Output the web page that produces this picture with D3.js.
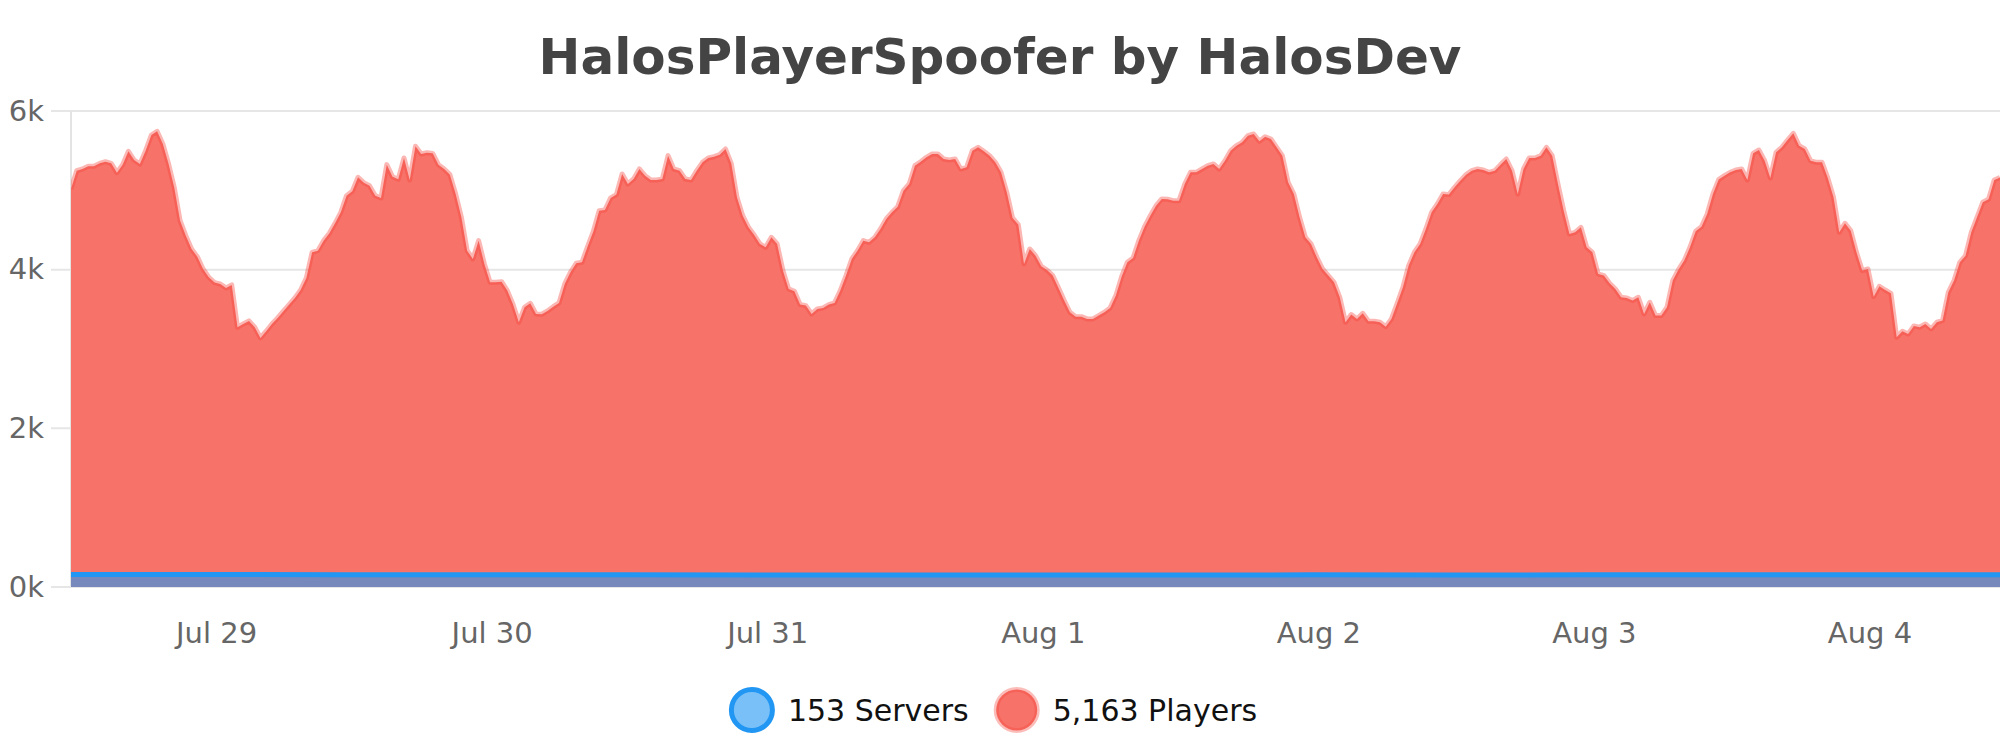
<!DOCTYPE html>
<html>
<head>
<meta charset="utf-8">
<script src="https://cdn.jsdelivr.net/npm/d3@7"></script>
<style>
  html, body { margin: 0; padding: 0; background: #ffffff; }
  svg { display: block; font-family: "DejaVu Sans", sans-serif; }
</style>
</head>
<body>
<svg id="chart" width="2000" height="750"></svg>
<script>
// ---------- data ----------
const chartTitle = "HalosPlayerSpoofer by HalosDev";
const startTime = Date.UTC(2020, 6, 28, 11, 22); // first sample
const playerStepMinutes = 30;
const serverStepMinutes = 720;
const yTickValues = [0, 2000, 4000, 6000];

const players = [
  5017,5248,5269,5303,5303,5340,5361,5340,5223,5324,5492,5382,5332,5500,5697,5744,5584,5332,5030,4618,
  4429,4261,4164,4009,3904,3837,3820,3770,3807,3274,3316,3354,3274,3140,3224,3316,3392,3476,3560,3644,
  3744,3896,4219,4240,4366,4458,4584,4723,4933,4988,5164,5097,5059,4933,4904,5324,5172,5139,5408,5130,
  5555,5458,5475,5466,5324,5269,5198,4954,4660,4240,4135,4366,4072,3841,3841,3849,3736,3560,3337,3526,
  3576,3442,3438,3480,3534,3581,3820,3967,4080,4093,4295,4484,4744,4752,4904,4946,5206,5080,5143,5269,
  5185,5130,5130,5143,5437,5269,5248,5143,5130,5248,5353,5408,5424,5450,5521,5340,4912,4681,4534,4437,
  4324,4282,4408,4324,3988,3757,3728,3560,3547,3442,3505,3518,3560,3581,3736,3925,4135,4240,4366,4345,
  4408,4513,4639,4723,4794,4996,5080,5311,5361,5416,5458,5458,5395,5382,5395,5269,5290,5500,5542,5492,
  5437,5353,5227,4975,4652,4568,4072,4261,4177,4043,3996,3925,3770,3610,3463,3408,3408,3379,3379,3421,
  3463,3518,3673,3912,4093,4148,4366,4542,4681,4807,4891,4887,4870,4870,5080,5227,5227,5269,5311,5332,
  5269,5374,5500,5563,5605,5689,5710,5618,5676,5647,5542,5437,5101,4954,4660,4408,4324,4156,4009,3925,
  3841,3652,3337,3434,3379,3450,3350,3350,3337,3282,3379,3576,3778,4051,4219,4324,4513,4723,4828,4954,
  4946,5038,5122,5198,5248,5269,5256,5227,5248,5324,5395,5248,4954,5269,5408,5408,5437,5542,5437,5080,
  4744,4450,4471,4534,4282,4219,3946,3925,3828,3757,3652,3644,3610,3652,3442,3589,3421,3421,3526,3862,
  4001,4114,4282,4484,4542,4702,4954,5135,5185,5227,5256,5269,5130,5466,5508,5374,5156,5479,5542,5634,
  5718,5563,5521,5374,5353,5353,5156,4912,4471,4584,4492,4219,3988,4009,3660,3791,3744,3702,3148,3224,
  3190,3291,3274,3316,3253,3337,3358,3715,3862,4093,4177,4471,4660,4849,4887,5130,5163
];

const servers = [158,157,155,154,153,152,151,151,152,153,152,153,154,153,153];

const seriesNames = ["Servers", "Players"];

// ---------- layout ----------
const W = 2000, H = 750;
const plot = { left: 71, right: 2000, top: 111, bottom: 587 };

const svg = d3.select("#chart");

const playerData = players.map((v, i) => ({ t: new Date(startTime + i * playerStepMinutes * 60000), v }));
const serverData = servers.map((v, i) => ({ t: new Date(startTime + i * serverStepMinutes * 60000), v }));

const x = d3.scaleUtc()
  .domain([playerData[0].t, playerData[playerData.length - 1].t])
  .range([plot.left, plot.right]);
const y = d3.scaleLinear().domain([0, 6000]).range([plot.bottom, plot.top]);

// title
svg.append("text")
  .attr("x", W / 2).attr("y", 74)
  .attr("text-anchor", "middle")
  .attr("font-size", 50).attr("font-weight", "bold")
  .attr("fill", "#444444")
  .text(chartTitle);

// grid lines
svg.append("g").selectAll("line").data(yTickValues).join("line")
  .attr("x1", plot.left - 20).attr("x2", plot.right)
  .attr("y1", d => y(d)).attr("y2", d => y(d))
  .attr("stroke", "#e6e6e6").attr("stroke-width", 2);

// y axis line
svg.append("line")
  .attr("x1", plot.left).attr("x2", plot.left)
  .attr("y1", plot.top).attr("y2", plot.bottom)
  .attr("stroke", "#e3e3e3").attr("stroke-width", 2);

// clip
svg.append("defs").append("clipPath").attr("id", "plotclip")
  .append("rect").attr("x", plot.left).attr("y", 0)
  .attr("width", plot.right - plot.left).attr("height", plot.bottom);

const g = svg.append("g").attr("clip-path", "url(#plotclip)");

// players
g.append("path").datum(playerData)
  .attr("fill", "#f7736a")
  .attr("d", d3.area().x(d => x(d.t)).y0(y(0)).y1(d => y(d.v)));
g.append("path").datum(playerData)
  .attr("fill", "none")
  .attr("stroke", "rgba(244,67,54,0.38)").attr("stroke-width", 5)
  .attr("stroke-linejoin", "round")
  .attr("d", d3.line().x(d => x(d.t)).y(d => y(d.v)));

// servers
g.append("path").datum(serverData)
  .attr("fill", "rgba(33,150,243,0.6)")
  .attr("d", d3.area().x(d => x(d.t)).y0(y(0)).y1(d => y(d.v)));
g.append("path").datum(serverData)
  .attr("fill", "none")
  .attr("stroke", "#2196f3").attr("stroke-width", 5)
  .attr("d", d3.line().x(d => x(d.t)).y(d => y(d.v)));

// y axis labels
const yAxis = svg.append("g").attr("transform", `translate(${plot.left},0)`)
  .call(d3.axisLeft(y).tickValues(yTickValues).tickSize(0).tickPadding(27)
    .tickFormat(d => (d / 1000) + "k"));
yAxis.select(".domain").remove();
yAxis.selectAll("text").attr("font-size", 29).attr("fill", "#666666")
  .attr("font-family", "DejaVu Sans");

// x axis labels
const xAxis = svg.append("g").attr("transform", `translate(0,${plot.bottom})`)
  .call(d3.axisBottom(x).ticks(d3.utcDay.every(1)).tickSize(0).tickPadding(35)
    .tickFormat(d3.utcFormat("%b %-d")));
xAxis.select(".domain").remove();
xAxis.selectAll("text").attr("font-size", 29).attr("fill", "#666666")
  .attr("font-family", "DejaVu Sans");

// legend
const fmt = d3.format(",");
const legendItems = [
  { label: fmt(servers[servers.length - 1]) + " " + seriesNames[0], fill: "#7ac0f8", stroke: "#2196f3" },
  { label: fmt(players[players.length - 1]) + " " + seriesNames[1], fill: "#f7736a", stroke: "rgba(244,67,54,0.35)" }
];
const legend = svg.append("g");
let cursor = 0;
legendItems.forEach((item, i) => {
  const it = legend.append("g").attr("transform", `translate(${cursor},0)`);
  it.append("circle").attr("cx", 23).attr("cy", 0).attr("r", 20.5)
    .attr("fill", item.fill).attr("stroke", item.stroke).attr("stroke-width", 5);
  const t = it.append("text").attr("x", 59).attr("y", 11)
    .attr("font-size", 30).attr("fill", "#111111").text(item.label);
  cursor += 59 + t.node().getComputedTextLength() + 25;
});
const legendWidth = cursor - 25;
legend.attr("transform", `translate(${993 - legendWidth / 2},710)`);
</script>
</body>
</html>
